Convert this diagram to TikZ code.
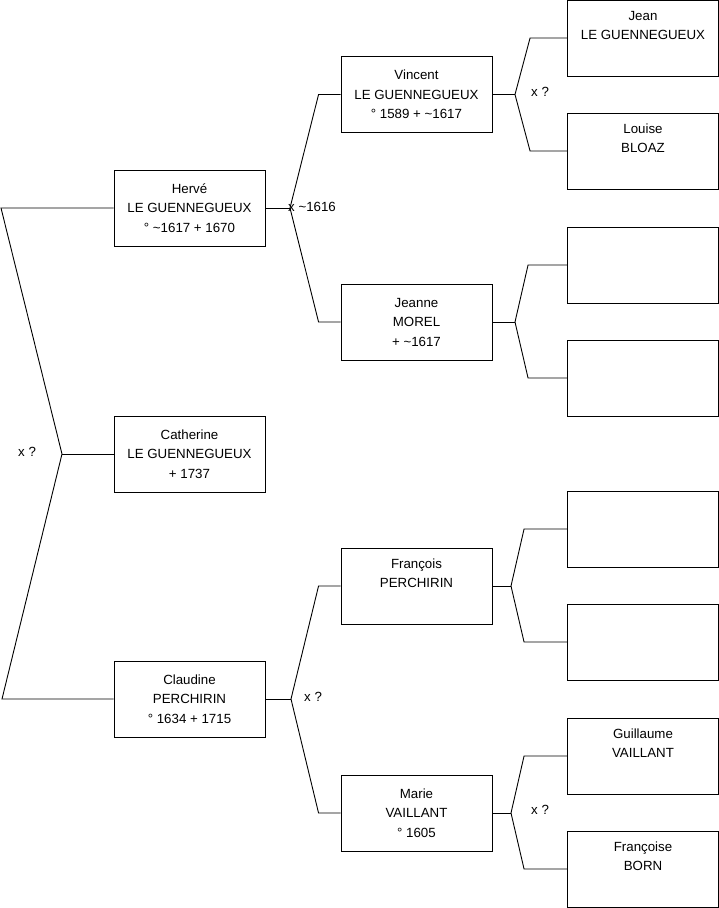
\documentclass[tikz,border=0pt]{standalone}
\usepackage{fontspec}
\setmainfont{Liberation Sans}
\begin{document}
\begin{tikzpicture}[x=1pt,y=-1pt,
  person/.style={draw=black,line width=0.9pt,rectangle,minimum width=151pt,minimum height=76pt,
    align=center,inner sep=0pt,font=\fontsize{13.3}{19.5}\selectfont},
  lbl/.style={anchor=west,inner sep=0pt,font=\fontsize{13.3}{15}\selectfont},
  link/.style={draw=black,line width=0.9pt}]
\useasboundingbox (0,0) rectangle (719,908);
% level 1
\node[person] (herve) at (189.5,208) {Hervé\\LE GUENNEGUEUX\\° \textasciitilde1617 + 1670};
\node[person] (catherine) at (189.5,454) {Catherine\\LE GUENNEGUEUX\\+ 1737};
\node[person] (claudine) at (189.5,699) {Claudine\\PERCHIRIN\\° 1634 + 1715};
% level 2
\node[person] (vincent) at (416.5,94.5) {Vincent\\LE GUENNEGUEUX\\° 1589 + \textasciitilde1617};
\node[person] (jeanne) at (416.5,322) {Jeanne\\MOREL\\+ \textasciitilde1617};
\node[person] (francois) at (416.5,586) {François\\PERCHIRIN\\\strut};
\node[person] (marie) at (416.5,813) {Marie\\VAILLANT\\° 1605};
% level 3
\node[person] (jean) at (643,38) {Jean\\LE GUENNEGUEUX\\\strut};
\node[person] (louise) at (643,151) {Louise\\BLOAZ\\\strut};
\node[person] (e1) at (643,265) {};
\node[person] (e2) at (643,378) {};
\node[person] (e3) at (643,529) {};
\node[person] (e4) at (643,642) {};
\node[person] (guillaume) at (643,756) {Guillaume\\VAILLANT\\\strut};
\node[person] (francoise) at (643,869) {Françoise\\BORN\\\strut};
% root connectors
\coordinate (ra) at (1,208);
\coordinate (rb) at (62,454);
\coordinate (rc) at (2,699);
\draw[link] (herve.west) -- (ra) -- (rb) -- (rc) -- (claudine.west);
\draw[link] (rb) -- (catherine.west);
\node[lbl] (lroot) at (18,452) {x ?};
% Herve parents
\coordinate (jh) at (290,208);
\draw[link] (herve.east) -- (jh);
\draw[link] (jh) -- ([xshift=-22pt]vincent.west) -- (vincent.west);
\draw[link] (jh) -- ([xshift=-22pt]jeanne.west) -- (jeanne.west);
\node[lbl] (lh) at (288,207) {x \textasciitilde1616};
% Claudine parents
\coordinate (jc) at (291,699);
\draw[link] (claudine.east) -- (jc);
\draw[link] (jc) -- ([xshift=-22pt]francois.west) -- (francois.west);
\draw[link] (jc) -- ([xshift=-22pt]marie.west) -- (marie.west);
\node[lbl] (lc) at (304,697) {x ?};
% Vincent parents
\coordinate (jv) at (515,94.5);
\draw[link] (vincent.east) -- (jv);
\draw[link] (jv) -- ([xshift=-37pt]jean.west) -- (jean.west);
\draw[link] (jv) -- ([xshift=-37pt]louise.west) -- (louise.west);
\node[lbl] (lv) at (531,92) {x ?};
% Jeanne parents
\coordinate (jj) at (515,322);
\draw[link] (jeanne.east) -- (jj);
\draw[link] (jj) -- ([xshift=-39pt]e1.west) -- (e1.west);
\draw[link] (jj) -- ([xshift=-39pt]e2.west) -- (e2.west);
% Francois parents
\coordinate (jf) at (511,586);
\draw[link] (francois.east) -- (jf);
\draw[link] (jf) -- ([xshift=-43pt]e3.west) -- (e3.west);
\draw[link] (jf) -- ([xshift=-43pt]e4.west) -- (e4.west);
% Marie parents
\coordinate (jm) at (511,813);
\draw[link] (marie.east) -- (jm);
\draw[link] (jm) -- ([xshift=-43pt]guillaume.west) -- (guillaume.west);
\draw[link] (jm) -- ([xshift=-43pt]francoise.west) -- (francoise.west);
\node[lbl] (lm) at (531,810) {x ?};
\end{tikzpicture}
\end{document}
